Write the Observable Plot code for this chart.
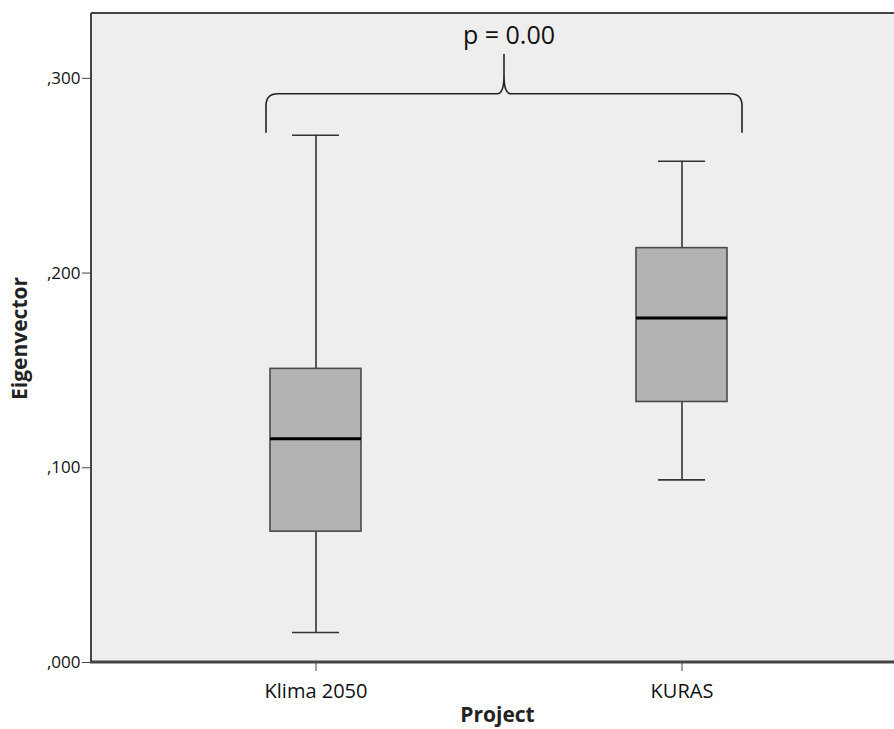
<!DOCTYPE html>
<html>
<head>
<meta charset="utf-8">
<script src="https://cdn.jsdelivr.net/npm/d3@7"></script>
<script src="https://cdn.jsdelivr.net/npm/@observablehq/plot@0.6"></script>
<style>
  html, body { margin: 0; padding: 0; background: #ffffff; }
  #chart svg { display: block; }
</style>
</head>
<body>
<div id="chart"></div>
<script>
// Data
const projects = ["Klima 2050", "KURAS"];
const lowWhisker = [0.0154, 0.0938];
const q1 = [0.0672, 0.1338];
const median = [0.1149, 0.1769];
const q3 = [0.1508, 0.2128];
const highWhisker = [0.2708, 0.2574];
const yTicks = [0, 0.1, 0.2, 0.3];
const pLabel = "p = 0.00";
const xTitle = "Project";
const yTitle = "Eigenvector";
const bracket = { bottom: 0.2718, top: 0.2918, tip: 0.3123, text: 0.3174 };

const data = projects.map((p, i) => ({
  project: p, lo: lowWhisker[i], q1: q1[i], med: median[i], q3: q3[i], hi: highWhisker[i]
}));

const W = 894, H = 729;
const mL = 91, mR = 0, mT = 13, mB = 67;
const font = "'Open Sans', 'DejaVu Sans', sans-serif";

const chart = Plot.plot({
  width: W,
  height: H,
  marginLeft: mL,
  marginRight: mR,
  marginTop: mT,
  marginBottom: mB,
  style: { fontFamily: font, background: "#ffffff", overflow: "visible" },
  x: { type: "band", domain: projects, range: [269.5, 727.5], paddingInner: 0.752, paddingOuter: 0, align: 0.5 },
  y: { domain: [0, 0.3333] },
  marks: [
    Plot.frame({ fill: "#eeeeee", stroke: null }),
    Plot.axisX({ tickSize: 9, tickPadding: 12, fontSize: 20, label: null, stroke: "#444", color: "#111" }),
    Plot.axisY({ ticks: yTicks, tickSize: 9, tickPadding: 2, fontSize: 17, label: null,
      tickFormat: d => d3.format(".3f")(d).replace(/^0\./, ","), stroke: "#444", color: "#111" }),
    Plot.ruleX(data, { x: "project", y1: "q3", y2: "hi", stroke: "#333", strokeWidth: 1.6 }),
    Plot.ruleX(data, { x: "project", y1: "lo", y2: "q1", stroke: "#333", strokeWidth: 1.6 }),
    Plot.tickY(data, { x: "project", y: "hi", insetLeft: 22, insetRight: 22, stroke: "#333", strokeWidth: 1.6 }),
    Plot.tickY(data, { x: "project", y: "lo", insetLeft: 22, insetRight: 22, stroke: "#333", strokeWidth: 1.6 }),
    Plot.barY(data, { x: "project", y1: "q1", y2: "q3", fill: "#b3b3b3", stroke: "#4a4a4a", strokeWidth: 1.6 }),
    Plot.tickY(data, { x: "project", y: "med", stroke: "#000", strokeWidth: 3 })
  ]
});

document.getElementById("chart").appendChild(chart);

const svg = d3.select(chart);
const xs = chart.scale("x");
const ys = chart.scale("y");
const y0 = H - mB, yTop = mT, xLeft = mL, xRight = W - mR;

// frame lines (top, left, bottom)
const g = svg.append("g");
g.append("line").attr("x1", xLeft).attr("x2", xRight).attr("y1", yTop).attr("y2", yTop)
  .attr("stroke", "#444").attr("stroke-width", 2);
g.append("line").attr("x1", xLeft).attr("x2", xLeft).attr("y1", yTop).attr("y2", y0)
  .attr("stroke", "#444").attr("stroke-width", 2);
g.append("line").attr("x1", xLeft - 1).attr("x2", xRight).attr("y1", y0).attr("y2", y0)
  .attr("stroke", "#444").attr("stroke-width", 3);

// brace annotation
const L = xs.apply(projects[0]) - 4;
const R = xs.apply(projects[1]) + xs.bandwidth + 15;
const M = (L + R) / 2;
const yb = ys.apply(bracket.bottom), yt = ys.apply(bracket.top), yc = ys.apply(bracket.tip);
const path = `M${L},${yb} V${yt + 12} Q${L},${yt} ${L + 12},${yt} H${M - 7} Q${M},${yt} ${M},${yt - 18} V${yc}
  M${M},${yt - 18} Q${M},${yt} ${M + 7},${yt} H${R - 12} Q${R},${yt} ${R},${yt + 12} V${yb}`;
g.append("path").attr("d", path).attr("fill", "none").attr("stroke", "#222").attr("stroke-width", 1.6);

g.append("text").attr("x", M + 5).attr("y", ys.apply(bracket.text))
  .attr("text-anchor", "middle").attr("font-size", 25).attr("font-family", font)
  .attr("fill", "#111").text(pLabel);

// axis titles
g.append("text").attr("x", (xLeft + xRight) / 2 + 5).attr("y", 722)
  .attr("text-anchor", "middle").attr("font-size", 21).attr("font-weight", "bold")
  .attr("font-family", font).attr("fill", "#222").text(xTitle);
g.append("text").attr("transform", `translate(27,${(yTop + y0) / 2 + 1}) rotate(-90)`)
  .attr("text-anchor", "middle").attr("font-size", 21).attr("font-weight", "bold")
  .attr("font-family", font).attr("fill", "#222").text(yTitle);
</script>
</body>
</html>
